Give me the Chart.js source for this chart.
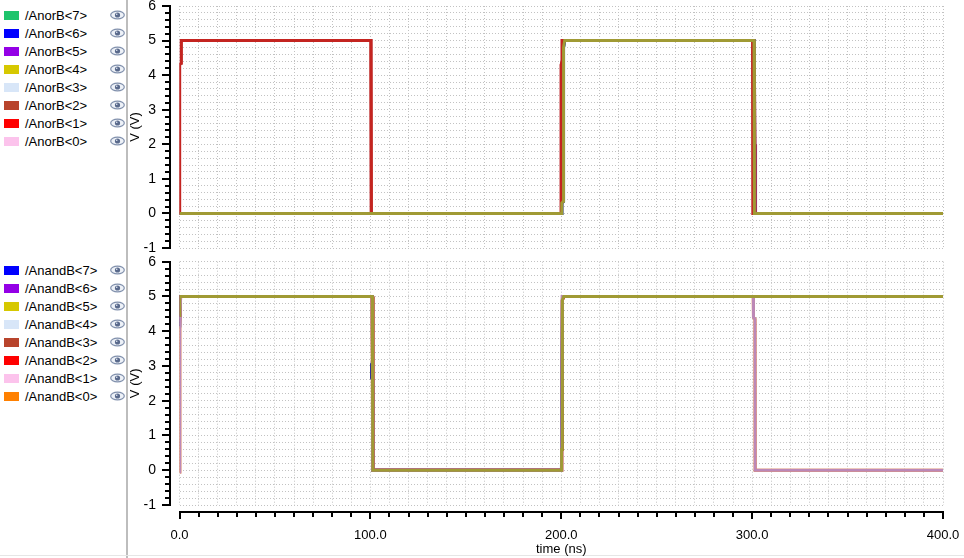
<!DOCTYPE html>
<html>
<head>
<meta charset="utf-8">
<script src="https://cdn.jsdelivr.net/npm/chart.js@4.4.0/dist/chart.umd.min.js"></script>
<style>
  html, body { margin: 0; padding: 0; background: #fff; }
  body { width: 964px; height: 558px; position: relative; overflow: hidden; font-family: "Liberation Sans", Arial, sans-serif; }
  .sep { position: absolute; left: 126px; top: 0; width: 2px; height: 558px; background: #bdbdbd; }
  .baseline { position: absolute; left: 0; top: 555px; width: 964px; height: 1px; background: #e6e6e6; }
  .legend { position: absolute; left: 0; width: 126px; }
  .row { position: absolute; left: 0; width: 126px; height: 18px; }
  .sw { position: absolute; left: 4px; top: 4.5px; width: 15px; height: 9px; }
  .lbl { position: absolute; left: 25px; top: 1px; line-height: 18px; font-size: 13px; color: #000; white-space: nowrap; }
  .eye { position: absolute; left: 110px; top: 4px; }
  canvas { position: absolute; left: 128px; }
</style>
</head>
<body>
<div class="sep"></div>
<div class="baseline"></div>
<div class="legend" id="legTop" style="top:6px"></div>
<div class="legend" id="legBottom" style="top:261px"></div>
<canvas id="anorB" width="836" height="255" style="top:0"></canvas>
<canvas id="anandB" width="836" height="303" style="top:255px"></canvas>
<script>
// tick labels
const timeLabels = [0, 100, 200, 300, 400];
const voltLabels = [-1, 0, 1, 2, 3, 4, 5, 6];

// signal names and legend colours
const anorBNames = ['/AnorB<7>', '/AnorB<6>', '/AnorB<5>', '/AnorB<4>', '/AnorB<3>', '/AnorB<2>', '/AnorB<1>', '/AnorB<0>'];
const anorBColors = ['#1ec46c', '#0000ff', '#9400e6', '#d6c800', '#d8e6f8', '#b8442c', '#ff0000', '#fcc3ec'];
const anandBNames = ['/AnandB<7>', '/AnandB<6>', '/AnandB<5>', '/AnandB<4>', '/AnandB<3>', '/AnandB<2>', '/AnandB<1>', '/AnandB<0>'];
const anandBColors = ['#0000ff', '#9400e6', '#d6c800', '#d8e6f8', '#b8442c', '#ff0000', '#fcc3ec', '#ff8000'];

// AnorB<1>,<2>,<3>,<0> : high 0-100 and 200-300 ns
const orPulseTime = [0, 0.05, 0.8, 0.9, 100.3, 100.5, 199.9, 200.0, 200.4, 200.5, 300.3, 300.5, 400];
const orPulseVolt = [0, 4.3, 4.35, 5, 5, 0, 0, 4.3, 4.4, 5, 5, 0, 0];
// AnorB<4>,<6>,<7> : high 200-300 ns
const orMidTime = [0, 200.2, 200.3, 201.1, 201.2, 201.8, 301.0, 301.2, 400];
const orMidVolt = [0, 0, 0.3, 0.35, 4.8, 5, 5, 0, 0];
// AnorB<5> : slower fall at 300 ns
const orLateTime = [0, 200.2, 201.2, 301.0, 301.6, 301.7, 301.9, 400];
const orLateVolt = [0, 0, 5, 5, 2.0, 0.8, 0, 0];

// AnandB<5>,<6>,<4>,<3>,<2> : high 0-100 and 200-400 ns
const andHoldTime = [0, 0.15, 101.0, 101.3, 200.1, 200.2, 200.5, 200.6, 201.3, 400];
const andHoldVolt = [4.45, 5, 5, 0, 0, 0.6, 0.6, 4.9, 5, 5];
// AnandB<7>
const andBlueTime = [0, 0.1, 0.15, 101.1, 101.1, 100.6, 100.6, 101.1, 101.2, 200.1, 200.6, 400];
const andBlueVolt = [4.15, 4.45, 5, 5, 3.1, 3.05, 2.65, 2.6, 0, 0, 5, 5];
// AnandB<1>,<0> : high 0-100 and 200-300 ns
const andPulseTime = [0, 0.05, 0.2, 0.25, 0.6, 100.9, 101.2, 200.2, 200.6, 300.6, 300.7, 301.5, 301.6, 400];
const andPulseVolt = [-0.05, 1.8, 1.8, 4.15, 5, 5, 0, 0, 5, 5, 4.4, 4.35, 0, 0];

function toPoints(ts, vs) {
  return ts.map((t, i) => ({ x: t, y: vs[i] }));
}

function buildTicks(min, max, step) {
  const out = [];
  const n = Math.round((max - min) / step);
  for (let i = 0; i <= n; i++) out.push({ value: Math.round((min + i * step) * 10) / 10 });
  return out;
}

function makeLegend(id, names, colors) {
  const box = document.getElementById(id);
  names.forEach((name, i) => {
    const row = document.createElement('div');
    row.className = 'row';
    row.style.top = (i * 18) + 'px';
    row.innerHTML = '<div class="sw" style="background:' + colors[i] + '"></div>' +
      '<div class="lbl"></div>' +
      '<svg class="eye" width="15" height="10" viewBox="0 0 15 10">' +
      '<ellipse cx="7.5" cy="5" rx="6.8" ry="3.8" fill="#eef2f8" stroke="#8090ac" stroke-width="1.2"/>' +
      '<circle cx="7.5" cy="5" r="2.6" fill="#5a6a8c"/><circle cx="6.7" cy="4.2" r="0.8" fill="#dfe6f2"/></svg>';
    row.querySelector('.lbl').textContent = name;
    box.appendChild(row);
  });
}

const scopeAxes = {
  id: 'scopeAxes',
  afterDraw(chart, args, opts) {
    const { ctx, chartArea, scales } = chart;
    const ys = scales.y, xs = scales.x;
    ctx.save();
    ctx.strokeStyle = '#000';
    ctx.lineWidth = 2;
    const ax = Math.round(chartArea.left - 9.5);
    ctx.beginPath();
    ctx.moveTo(ax, Math.round(ys.getPixelForValue(ys.max)) - 1);
    ctx.lineTo(ax, Math.round(ys.getPixelForValue(ys.min)) + 1);
    ctx.stroke();
    ys.ticks.forEach(t => {
      const py = Math.round(ys.getPixelForValue(t.value));
      const len = voltLabels.includes(t.value) ? 8 : 5;
      ctx.beginPath();
      ctx.moveTo(ax - len, py);
      ctx.lineTo(ax, py);
      ctx.stroke();
    });
    if (opts.showX) {
      const ay = Math.round(chartArea.bottom + 6.7);
      ctx.beginPath();
      ctx.moveTo(Math.round(chartArea.left) - 1, ay);
      ctx.lineTo(Math.round(chartArea.right) + 1, ay);
      ctx.stroke();
      xs.ticks.forEach(t => {
        const px = Math.round(xs.getPixelForValue(t.value));
        const len = timeLabels.includes(t.value) ? 7 : 5;
        ctx.beginPath();
        ctx.moveTo(px, ay);
        ctx.lineTo(px, ay + len);
        ctx.stroke();
      });
    }
    ctx.restore();
  }
};

function trace(label, ts, vs, color, order) {
  return {
    label: label,
    data: toPoints(ts, vs),
    borderColor: color,
    backgroundColor: color,
    borderWidth: 3,
    borderJoinStyle: 'miter',
    pointRadius: 0,
    tension: 0,
    fill: false,
    order: order
  };
}

function makeOptions(showX, padTop, padBottom) {
  return {
    responsive: false,
    animation: false,
    events: [],
    layout: { padding: { top: padTop, right: 21, bottom: padBottom, left: 0 } },
    plugins: { legend: { display: false }, tooltip: { enabled: false }, scopeAxes: { showX: showX } },
    scales: {
      x: {
        type: 'linear', min: 0, max: 400,
        afterBuildTicks: s => { s.ticks = buildTicks(0, 400, 10); },
        afterFit: s => { s.height = showX ? 53 : 0; s.paddingLeft = 0; s.paddingRight = 0; },
        grid: { color: '#c2c2c2', lineWidth: 1, drawTicks: false },
        border: { display: false, dash: [1, 2] },
        ticks: {
          display: showX, autoSkip: false, maxRotation: 0, padding: 23,
          font: { size: 13 }, color: '#000',
          callback: v => timeLabels.includes(v) ? v.toFixed(1) : ''
        },
        title: { display: showX, text: 'time (ns)', font: { size: 13 }, color: '#000', padding: { top: 0, bottom: 1 } }
      },
      y: {
        type: 'linear', min: -1, max: 6,
        afterBuildTicks: s => { s.ticks = buildTicks(-1, 6, 0.2); },
        afterFit: s => { s.width = 51.5; s.paddingTop = 0; s.paddingBottom = 0; },
        grid: { color: '#c2c2c2', lineWidth: 1, drawTicks: false },
        border: { display: false, dash: [1, 2] },
        ticks: {
          autoSkip: false, padding: 23.5,
          font: { size: 14 }, color: '#000',
          callback: v => voltLabels.includes(v) ? String(v) : ''
        },
        title: { display: true, text: 'V (V)', font: { size: 13 }, color: '#000', padding: 0 }
      }
    }
  };
}

Chart.defaults.font.family = '"Liberation Sans", Arial, sans-serif';

makeLegend('legTop', anorBNames, anorBColors);
makeLegend('legBottom', anandBNames, anandBColors);

new Chart(document.getElementById('anorB'), {
  type: 'line',
  data: {
    datasets: [
      trace(anorBNames[0], orMidTime, orMidVolt, anorBColors[0], 7),
      trace(anorBNames[1], orMidTime, orMidVolt, anorBColors[1], 6),
      trace(anorBNames[2], orLateTime, orLateVolt, '#a0305a', 2),
      trace(anorBNames[3], orMidTime, orMidVolt, '#a09a34', 0),
      trace(anorBNames[4], orPulseTime, orPulseVolt, anorBColors[4], 5),
      trace(anorBNames[5], orPulseTime, orPulseVolt, anorBColors[5], 3),
      trace(anorBNames[6], orPulseTime, orPulseVolt, '#c42420', 1),
      trace(anorBNames[7], orPulseTime, orPulseVolt, anorBColors[7], 4)
    ]
  },
  options: makeOptions(false, 6, 7),
  plugins: [scopeAxes]
});

new Chart(document.getElementById('anandB'), {
  type: 'line',
  data: {
    datasets: [
      trace(anandBNames[0], andBlueTime, andBlueVolt, '#202090', 2),
      trace(anandBNames[1], andHoldTime, andHoldVolt, anandBColors[1], 6),
      trace(anandBNames[2], andHoldTime, andHoldVolt, '#a09a34', 0),
      trace(anandBNames[3], andHoldTime, andHoldVolt, anandBColors[3], 5),
      trace(anandBNames[4], andHoldTime, andHoldVolt, anandBColors[4], 4),
      trace(anandBNames[5], andHoldTime, andHoldVolt, anandBColors[5], 3),
      trace(anandBNames[6], andPulseTime, andPulseVolt, '#bc88b8', 1),
      trace(anandBNames[7], andPulseTime, andPulseVolt, anandBColors[7], 7)
    ]
  },
  options: makeOptions(true, 6.7, 0),
  plugins: [scopeAxes]
});
</script>
</body>
</html>
